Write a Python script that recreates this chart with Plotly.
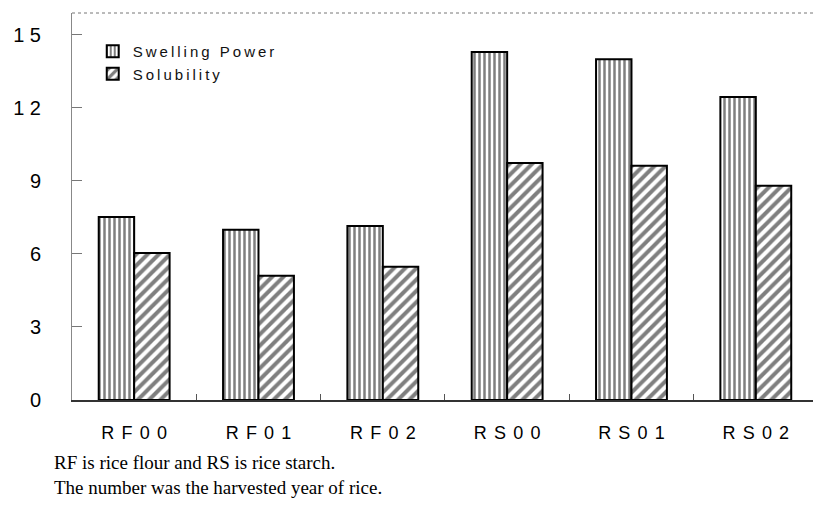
import plotly.graph_objects as go

categories = ["RF00", "RF01", "RF02", "RS00", "RS01", "RS02"]
swelling_power = [7.52, 6.99, 7.15, 14.3, 14.0, 12.45]
solubility = [6.04, 5.1, 5.47, 9.74, 9.62, 8.8]
y_ticks = [0, 3, 6, 9, 12, 15]

THIN = "\u2009"

def spaced(s, gap):
    words = s.split(" ")
    return (gap + " " + gap).join(gap.join(list(w)) for w in words)

W, H = 813, 518
L, R, T, B = 72, 0, 13, 118
pw = W - L - R
ph = H - T - B

fig = go.Figure()
fig.add_trace(go.Bar(
    x=categories, y=swelling_power, name=spaced("Swelling Power", THIN),
    marker=dict(color="white", line=dict(color="black", width=2),
                pattern=dict(shape="|", fgcolor="black", bgcolor="white", size=5, solidity=0.5)),
))
fig.add_trace(go.Bar(
    x=categories, y=solubility, name=spaced("Solubility", THIN),
    marker=dict(color="white", line=dict(color="black", width=2),
                pattern=dict(shape="/", fgcolor="black", bgcolor="white", size=8, solidity=0.5)),
))

fig.update_layout(
    width=W, height=H,
    margin=dict(l=L, r=R, t=T, b=B, autoexpand=False),
    paper_bgcolor="white", plot_bgcolor="white",
    barmode="group", bargap=0.43, bargroupgap=0,
    font=dict(family="Liberation Sans, Arial, sans-serif", color="black"),
    showlegend=True,
    legend=dict(x=0.028, y=0.943, xanchor="left", yanchor="top",
                bgcolor="rgba(0,0,0,0)", font=dict(size=15, color="#111"),
                tracegroupgap=0, itemsizing="constant"),
    xaxis=dict(
        tickmode="array", tickvals=categories,
        ticktext=[spaced(c, THIN + THIN) for c in categories],
        range=[-0.5, 5.46], tickson="boundaries", ticks="inside", ticklen=6,
        tickcolor="#555", showline=True, linecolor="#333", linewidth=1.5,
        showgrid=False, zeroline=False, ticklabelstandoff=16, automargin=False,
        tickfont=dict(size=18, color="black"),
    ),
    yaxis=dict(
        range=[0, 15.9], tickvals=y_ticks,
        ticktext=[spaced(str(v), " ") for v in y_ticks],
        ticks="inside", ticklen=10, tickcolor="#777",
        showline=True, linecolor="#888", linewidth=1,
        showgrid=False, zeroline=False, ticklabelstandoff=26, automargin=False,
        tickfont=dict(size=20, color="black"),
    ),
)

# top border (dotted gray)
fig.add_shape(type="line", xref="paper", yref="paper", x0=0, x1=1, y0=1, y1=1,
              line=dict(color="#777", width=1, dash="dot"))

serif = dict(family="Liberation Serif, Times New Roman, serif", size=19, color="black")
fig.add_annotation(text="RF is rice flour and RS is rice starch.",
                   xref="paper", yref="paper", x=(52 - L) / pw, y=(T + ph - 462) / ph,
                   xanchor="left", yanchor="middle", showarrow=False, font=serif)
fig.add_annotation(text="The number was the harvested year of rice.",
                   xref="paper", yref="paper", x=(52 - L) / pw, y=(T + ph - 487) / ph,
                   xanchor="left", yanchor="middle", showarrow=False, font=serif)

fig.write_html("out.html", config={"displayModeBar": False},
               post_script="document.body.style.margin='0';document.body.style.overflow='hidden';")
